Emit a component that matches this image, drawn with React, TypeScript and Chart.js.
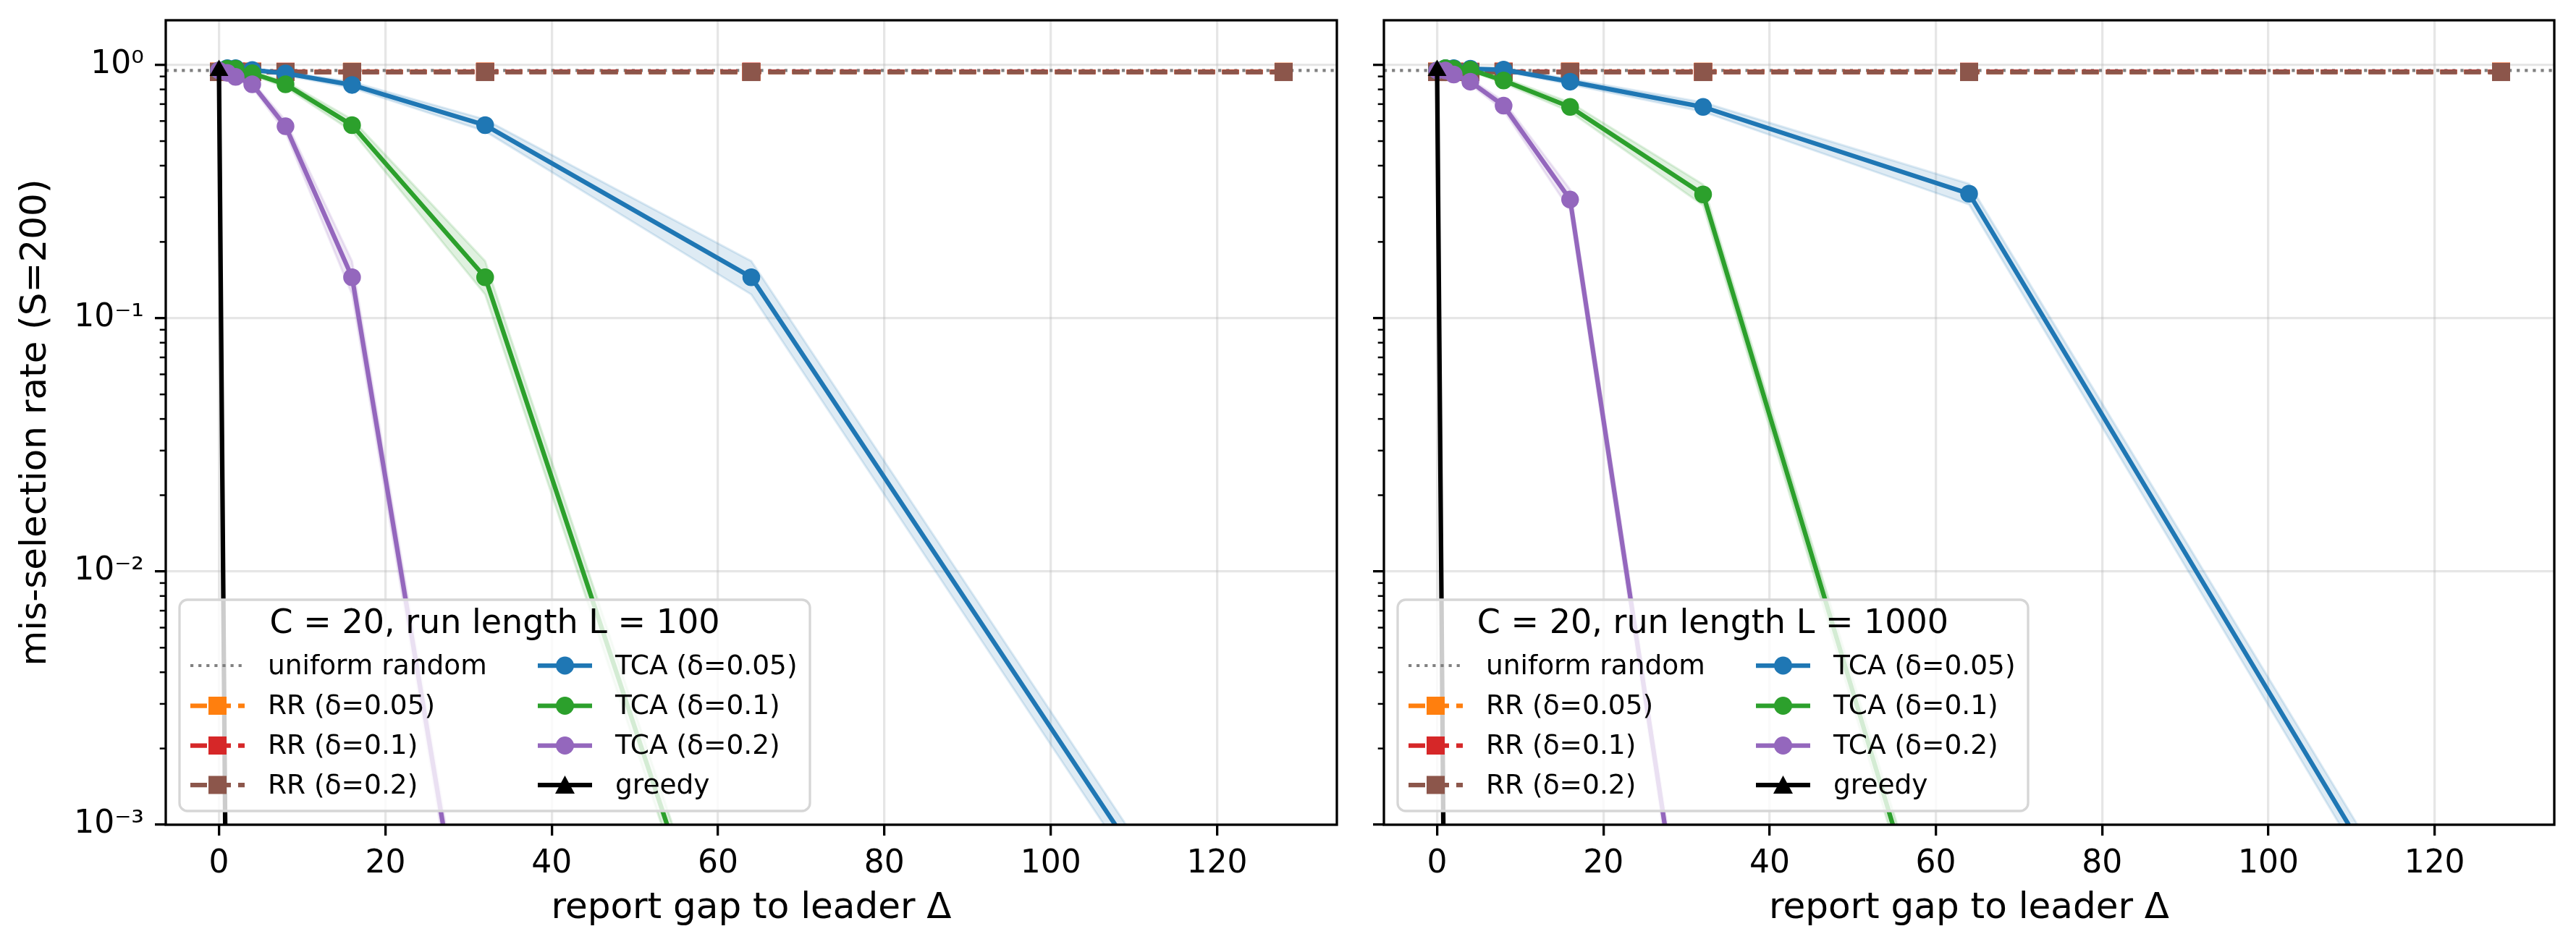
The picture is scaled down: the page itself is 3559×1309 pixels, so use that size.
import React, { useEffect, useRef } from "react";
import { Chart, registerables } from "chart.js";

Chart.register(...registerables);

const FONT = "'DejaVu Sans', sans-serif";

// ---------------- data ----------------
const DELTAS = [0, 1, 2, 4, 8, 16, 32, 64, 128];
const UNIFORM_RATE = 0.95;
const X_LIMITS = [-6.4, 134.4];
const Y_LIMITS = [1e-3, 1.5];
const X_TICKS = [0, 20, 40, 60, 80, 100, 120];
const Y_TICKS = [1e-3, 1e-2, 1e-1, 1];
const Y_TICK_LABELS = ["10⁻³", "10⁻²", "10⁻¹", "10⁰"];
const Y_MINOR_TICKS = [
  0.002, 0.003, 0.004, 0.005, 0.006, 0.007, 0.008, 0.009,
  0.02, 0.03, 0.04, 0.05, 0.06, 0.07, 0.08, 0.09,
  0.2, 0.3, 0.4, 0.5, 0.6, 0.7, 0.8, 0.9,
];

// panel 1: run length L = 100
const L100_RR005 = [0.94, 0.94, 0.939, 0.94, 0.938, 0.939, 0.94, 0.938, 0.939];
const L100_RR01 = [0.939, 0.938, 0.94, 0.939, 0.939, 0.938, 0.939, 0.94, 0.938];
const L100_RR02 = [0.937, 0.937, 0.937, 0.937, 0.937, 0.937, 0.937, 0.937, 0.937];
const L100_TCA005 = [0.95, 0.97, 0.97, 0.955, 0.925, 0.833, 0.578, 0.145, 1e-4];
const L100_TCA005_LO = [0.936, 0.959, 0.959, 0.942, 0.908, 0.81, 0.547, 0.124, 0.86e-4];
const L100_TCA005_HI = [0.963, 0.98, 0.98, 0.967, 0.941, 0.856, 0.609, 0.168, 1.16e-4];
const L100_TCA01 = [0.95, 0.965, 0.965, 0.926, 0.838, 0.578, 0.145, 1e-4, 1e-4];
const L100_TCA01_LO = [0.936, 0.954, 0.954, 0.91, 0.815, 0.547, 0.124, 0.86e-4, 0.86e-4];
const L100_TCA01_HI = [0.963, 0.976, 0.976, 0.942, 0.861, 0.609, 0.168, 1.16e-4, 1.16e-4];
const L100_TCA02 = [0.95, 0.93, 0.896, 0.838, 0.572, 0.145, 1e-4, 1e-4, 1e-4];
const L100_TCA02_LO = [0.936, 0.914, 0.877, 0.815, 0.541, 0.124, 0.86e-4, 0.86e-4, 0.86e-4];
const L100_TCA02_HI = [0.963, 0.946, 0.915, 0.861, 0.603, 0.168, 1.16e-4, 1.16e-4, 1.16e-4];
const L100_GREEDY = [0.95, 1e-4, 1e-4, 1e-4, 1e-4, 1e-4, 1e-4, 1e-4, 1e-4];

// panel 2: run length L = 1000
const L1000_RR005 = [0.94, 0.939, 0.94, 0.938, 0.939, 0.94, 0.939, 0.938, 0.94];
const L1000_RR01 = [0.939, 0.94, 0.938, 0.939, 0.94, 0.939, 0.938, 0.939, 0.939];
const L1000_RR02 = [0.937, 0.937, 0.937, 0.937, 0.937, 0.937, 0.937, 0.937, 0.937];
const L1000_TCA005 = [0.95, 0.97, 0.97, 0.965, 0.957, 0.858, 0.682, 0.31, 1e-4];
const L1000_TCA005_LO = [0.936, 0.959, 0.959, 0.954, 0.944, 0.836, 0.653, 0.281, 0.86e-4];
const L1000_TCA005_HI = [0.963, 0.98, 0.98, 0.976, 0.97, 0.88, 0.711, 0.339, 1.16e-4];
const L1000_TCA01 = [0.95, 0.97, 0.965, 0.957, 0.867, 0.682, 0.308, 1e-4, 1e-4];
const L1000_TCA01_LO = [0.936, 0.959, 0.954, 0.944, 0.846, 0.653, 0.279, 0.86e-4, 0.86e-4];
const L1000_TCA01_HI = [0.963, 0.98, 0.976, 0.97, 0.888, 0.711, 0.337, 1.16e-4, 1.16e-4];
const L1000_TCA02 = [0.95, 0.95, 0.916, 0.858, 0.69, 0.294, 1e-4, 1e-4, 1e-4];
const L1000_TCA02_LO = [0.936, 0.936, 0.899, 0.836, 0.661, 0.266, 0.86e-4, 0.86e-4, 0.86e-4];
const L1000_TCA02_HI = [0.963, 0.963, 0.933, 0.88, 0.719, 0.322, 1.16e-4, 1.16e-4, 1.16e-4];
const L1000_GREEDY = [0.95, 1e-4, 1e-4, 1e-4, 1e-4, 1e-4, 1e-4, 1e-4, 1e-4];

const LABEL_UNIFORM = "uniform random";
const LABEL_RR005 = "RR (δ=0.05)";
const LABEL_RR01 = "RR (δ=0.1)";
const LABEL_RR02 = "RR (δ=0.2)";
const LABEL_TCA005 = "TCA (δ=0.05)";
const LABEL_TCA01 = "TCA (δ=0.1)";
const LABEL_TCA02 = "TCA (δ=0.2)";
const LABEL_GREEDY = "greedy";
const X_TITLE = "report gap to leader Δ";
const Y_TITLE = "mis-selection rate (S=200)";
const TITLE_L100 = "C = 20, run length L = 100";
const TITLE_L1000 = "C = 20, run length L = 1000";

// ---------------- styles ----------------
const C_BLUE = "#1f77b4";
const C_ORANGE = "#ff7f0e";
const C_GREEN = "#2ca02c";
const C_RED = "#d62728";
const C_PURPLE = "#9467bd";
const C_BROWN = "#8c564b";
const C_GRAY = "#808080";
const C_BLACK = "#000000";
const GRID = "rgba(176,176,176,0.32)";
const LW = 6.25;
const DASH = [23, 10];
const DOT = [4.2, 6.9];

function rgba(hex: string, a: number) {
  const n = parseInt(hex.slice(1), 16);
  return `rgba(${(n >> 16) & 255},${(n >> 8) & 255},${n & 255},${a})`;
}

function pts(ys: number[]) {
  return DELTAS.map((x, i) => ({ x, y: ys[i] }));
}

type Marker = "none" | "circle" | "square" | "triangle";
type Handle = { label: string; color: string; dash: number[]; width: number; marker: Marker };

const LEGEND_COL1: Handle[] = [
  { label: LABEL_UNIFORM, color: C_GRAY, dash: DOT, width: 4.2, marker: "none" },
  { label: LABEL_RR005, color: C_ORANGE, dash: DASH, width: LW, marker: "square" },
  { label: LABEL_RR01, color: C_RED, dash: DASH, width: LW, marker: "square" },
  { label: LABEL_RR02, color: C_BROWN, dash: DASH, width: LW, marker: "square" },
];
const LEGEND_COL2: Handle[] = [
  { label: LABEL_TCA005, color: C_BLUE, dash: [], width: LW, marker: "circle" },
  { label: LABEL_TCA01, color: C_GREEN, dash: [], width: LW, marker: "circle" },
  { label: LABEL_TCA02, color: C_PURPLE, dash: [], width: LW, marker: "circle" },
  { label: LABEL_GREEDY, color: C_BLACK, dash: [], width: LW, marker: "triangle" },
];

function drawMarker(ctx: CanvasRenderingContext2D, m: Marker, x: number, y: number, color: string) {
  if (m === "none") return;
  ctx.save();
  ctx.setLineDash([]);
  ctx.fillStyle = color;
  ctx.beginPath();
  if (m === "circle") ctx.arc(x, y, 12.5, 0, Math.PI * 2);
  else if (m === "square") ctx.rect(x - 12.5, y - 12.5, 25, 25);
  else {
    ctx.moveTo(x, y - 13);
    ctx.lineTo(x + 13.5, y + 12);
    ctx.lineTo(x - 13.5, y + 12);
    ctx.closePath();
  }
  ctx.fill();
  ctx.restore();
}

const framePlugin = {
  id: "mplFrame",
  afterDraw(chart: any, _args: any, opts: any) {
    const { ctx, chartArea: ca } = chart;
    const ys = chart.scales.y;
    ctx.save();
    // minor ticks
    ctx.strokeStyle = "#000";
    ctx.lineWidth = 2.5;
    ctx.setLineDash([]);
    for (const v of Y_MINOR_TICKS) {
      const py = ys.getPixelForValue(v);
      if (py < ca.top || py > ca.bottom) continue;
      ctx.beginPath();
      ctx.moveTo(ca.left - 8.3, py);
      ctx.lineTo(ca.left, py);
      ctx.stroke();
    }
    // spines
    ctx.lineWidth = 3.3;
    ctx.strokeRect(ca.left, ca.top, ca.right - ca.left, ca.bottom - ca.top);

    // legend
    const L = ca.left + 19;
    const B = ca.bottom - 19;
    const W = 871;
    const H = 292;
    const T = B - H;
    const r = 11;
    ctx.beginPath();
    ctx.moveTo(L + r, T);
    ctx.lineTo(L + W - r, T);
    ctx.arcTo(L + W, T, L + W, T + r, r);
    ctx.lineTo(L + W, B - r);
    ctx.arcTo(L + W, B, L + W - r, B, r);
    ctx.lineTo(L + r, B);
    ctx.arcTo(L, B, L, B - r, r);
    ctx.lineTo(L, T + r);
    ctx.arcTo(L, T, L + r, T, r);
    ctx.closePath();
    ctx.fillStyle = "rgba(255,255,255,0.8)";
    ctx.fill();
    ctx.strokeStyle = "#d6d6d6";
    ctx.lineWidth = 3.3;
    ctx.stroke();

    ctx.fillStyle = "#000";
    ctx.textAlign = "center";
    ctx.textBaseline = "middle";
    ctx.font = `46px ${FONT}`;
    ctx.fillText(opts.title, L + W / 2, T + 34);

    const rows = [91, 146.5, 201.5, 256];
    const cols: [Handle[], number][] = [
      [LEGEND_COL1, 15],
      [LEGEND_COL2, 495],
    ];
    ctx.font = `37.5px ${FONT}`;
    ctx.textAlign = "left";
    for (const [items, cx] of cols) {
      items.forEach((h, i) => {
        const y = T + rows[i];
        const x0 = L + cx;
        ctx.save();
        ctx.strokeStyle = h.color;
        ctx.lineWidth = h.width;
        ctx.setLineDash(h.dash);
        ctx.beginPath();
        ctx.moveTo(x0, y);
        ctx.lineTo(x0 + 75, y);
        ctx.stroke();
        ctx.restore();
        drawMarker(ctx, h.marker, x0 + 37.5, y, h.color);
        ctx.fillStyle = "#000";
        ctx.fillText(h.label, x0 + 107, y + 2);
      });
    }
    ctx.restore();
  },
};

type PanelData = {
  title: string;
  rr005: number[]; rr01: number[]; rr02: number[];
  t005: number[]; t005lo: number[]; t005hi: number[];
  t01: number[]; t01lo: number[]; t01hi: number[];
  t02: number[]; t02lo: number[]; t02hi: number[];
  greedy: number[];
};

function tcaSets(label: string, ys: number[], lo: number[], hi: number[], color: string) {
  return [
    {
      label, data: pts(ys), borderColor: color, backgroundColor: color, borderWidth: LW,
      pointStyle: "circle", pointRadius: 11.5, pointBorderWidth: 1.5, pointBackgroundColor: color,
      pointBorderColor: color, fill: false, borderJoinStyle: "round",
    },
    {
      label: label + " hi", data: pts(hi), borderColor: rgba(color, 0.15), backgroundColor: rgba(color, 0.15),
      borderWidth: 3, pointRadius: 0, fill: "+1",
    },
    {
      label: label + " lo", data: pts(lo), borderColor: rgba(color, 0.15), backgroundColor: rgba(color, 0.15),
      borderWidth: 3, pointRadius: 0, fill: false,
    },
  ];
}

function rrSet(label: string, ys: number[], color: string) {
  return {
    label, data: pts(ys), borderColor: color, backgroundColor: color, borderWidth: LW, borderDash: DASH,
    pointStyle: "rect", pointRadius: 17.7, pointBorderWidth: 0, pointBackgroundColor: color, fill: false,
  };
}

function makeConfig(d: PanelData, isLeft: boolean): any {
  const datasets: any[] = [
    {
      label: LABEL_GREEDY, data: pts(d.greedy), borderColor: C_BLACK, backgroundColor: C_BLACK, borderWidth: LW,
      pointStyle: "triangle", pointRadius: 15, pointBorderWidth: 0, pointBackgroundColor: C_BLACK, fill: false,
    },
    ...tcaSets(LABEL_TCA02, d.t02, d.t02lo, d.t02hi, C_PURPLE),
    ...tcaSets(LABEL_TCA01, d.t01, d.t01lo, d.t01hi, C_GREEN),
    ...tcaSets(LABEL_TCA005, d.t005, d.t005lo, d.t005hi, C_BLUE),
    rrSet(LABEL_RR02, d.rr02, C_BROWN),
    rrSet(LABEL_RR01, d.rr01, C_RED),
    rrSet(LABEL_RR005, d.rr005, C_ORANGE),
    {
      label: LABEL_UNIFORM,
      data: [{ x: X_LIMITS[0], y: UNIFORM_RATE }, { x: X_LIMITS[1], y: UNIFORM_RATE }],
      borderColor: C_GRAY, borderWidth: 4.2, borderDash: DOT, pointRadius: 0, fill: false,
    },
  ];
  const tickFont = { family: FONT, size: 44 };
  const titleFont = { family: FONT, size: 50 };
  return {
    type: "line",
    data: { datasets },
    plugins: [framePlugin],
    options: {
      responsive: false,
      animation: false,
      devicePixelRatio: 1,
      layout: { padding: { left: 0, right: isLeft ? 33 : 30, top: 28, bottom: 0 } },
      elements: { line: { tension: 0 } },
      plugins: {
        legend: { display: false },
        tooltip: { enabled: false },
        mplFrame: { title: d.title },
      },
      scales: {
        x: {
          type: "linear",
          min: X_LIMITS[0],
          max: X_LIMITS[1],
          afterBuildTicks: (s: any) => {
            s.ticks = X_TICKS.map((v) => ({ value: v }));
          },
          afterFit: (s: any) => {
            s.height = 169;
            s.paddingLeft = 0;
            s.paddingRight = 0;
          },
          ticks: {
            font: tickFont, color: "#000", padding: 13, maxRotation: 0, autoSkip: false,
            callback: (v: any) => String(v),
          },
          grid: { color: GRID, lineWidth: 3.3, tickLength: 15, tickWidth: 3.3, tickColor: "#000" },
          border: { display: false },
          title: { display: true, text: X_TITLE, font: titleFont, color: "#000", padding: { top: 0, bottom: 23 } },
        },
        y: {
          type: "logarithmic",
          min: Y_LIMITS[0],
          max: Y_LIMITS[1],
          afterBuildTicks: (s: any) => {
            s.ticks = Y_TICKS.map((v) => ({ value: v }));
          },
          afterFit: (s: any) => {
            s.width = isLeft ? 229 : 32;
            s.paddingTop = 0;
            s.paddingBottom = 0;
          },
          ticks: {
            display: isLeft, font: tickFont, color: "#000", padding: 15, autoSkip: false,
            callback: (v: any) => {
              const i = Y_TICKS.findIndex((t) => Math.abs(t - v) / t < 1e-6);
              return i >= 0 ? Y_TICK_LABELS[i] : "";
            },
          },
          grid: { color: GRID, lineWidth: 3.3, tickLength: 15, tickWidth: 3.3, tickColor: "#000" },
          border: { display: false },
          title: { display: isLeft, text: Y_TITLE, font: titleFont, color: "#000", padding: { top: 20, bottom: 0 } },
        },
      },
    },
  };
}

const PANEL_L100: PanelData = {
  title: TITLE_L100,
  rr005: L100_RR005, rr01: L100_RR01, rr02: L100_RR02,
  t005: L100_TCA005, t005lo: L100_TCA005_LO, t005hi: L100_TCA005_HI,
  t01: L100_TCA01, t01lo: L100_TCA01_LO, t01hi: L100_TCA01_HI,
  t02: L100_TCA02, t02lo: L100_TCA02_LO, t02hi: L100_TCA02_HI,
  greedy: L100_GREEDY,
};
const PANEL_L1000: PanelData = {
  title: TITLE_L1000,
  rr005: L1000_RR005, rr01: L1000_RR01, rr02: L1000_RR02,
  t005: L1000_TCA005, t005lo: L1000_TCA005_LO, t005hi: L1000_TCA005_HI,
  t01: L1000_TCA01, t01lo: L1000_TCA01_LO, t01hi: L1000_TCA01_HI,
  t02: L1000_TCA02, t02lo: L1000_TCA02_LO, t02hi: L1000_TCA02_HI,
  greedy: L1000_GREEDY,
};

export default function App() {
  const leftRef = useRef<HTMLCanvasElement | null>(null);
  const rightRef = useRef<HTMLCanvasElement | null>(null);

  useEffect(() => {
    Chart.defaults.font.family = FONT;
    Chart.defaults.color = "#000";
    const a = new Chart(leftRef.current as HTMLCanvasElement, makeConfig(PANEL_L100, true));
    const b = new Chart(rightRef.current as HTMLCanvasElement, makeConfig(PANEL_L1000, false));
    return () => {
      a.destroy();
      b.destroy();
    };
  }, []);

  return (
    <div style={{ position: "absolute", left: 0, top: 0, width: 3559, height: 1309, background: "#fff", overflow: "hidden" }}>
      <canvas ref={leftRef} width={1880} height={1309} style={{ position: "absolute", left: 0, top: 0 }} />
      <canvas ref={rightRef} width={1679} height={1309} style={{ position: "absolute", left: 1880, top: 0 }} />
    </div>
  );
}
